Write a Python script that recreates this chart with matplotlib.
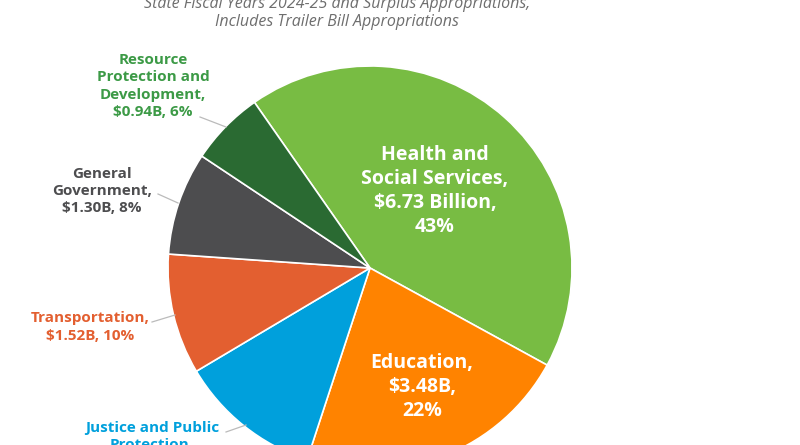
import matplotlib.pyplot as plt

categories = ["Health and Social Services", "Education", "Justice and Public Protection",
              "Transportation", "General Government", "Resource Protection and Development"]
values = [6.73, 3.48, 1.80, 1.52, 1.30, 0.94]
colors = ["#78BC43", "#FF8300", "#00A0DC", "#E35F30", "#4D4D4F", "#2A6A32"]

W, H = 800, 445
plt.rcParams["font.family"] = ["Open Sans", "DejaVu Sans"]

fig = plt.figure(figsize=(W / 100, H / 100), dpi=100)

# pie drawn in its own equal-aspect axes placed in pixel space
cx, cy, r = 370, 268, 202
pax = fig.add_axes([(cx - r) / W, (H - cy - r) / H, 2 * r / W, 2 * r / H])
pax.pie(values, colors=colors, startangle=124.9, counterclock=False,
        wedgeprops=dict(edgecolor="white", linewidth=1.2))
pax.set_xlim(-1, 1)
pax.set_ylim(-1, 1)
pax.set_aspect("equal")
pax.axis("off")

# overlay axes in pixel coordinates for text
ax = fig.add_axes([0, 0, 1, 1])
ax.set_zorder(3)
ax.set_xlim(0, W)
ax.set_ylim(H, 0)
ax.axis("off")

# title lines (partly cut off at the top, as in the source)
ax.text(337, 4, "State Fiscal Years 2024-25 and Surplus Appropriations,",
        ha="center", va="center", fontsize=11.5, style="italic", color="#6E6E6E")
ax.text(337, 22, "Includes Trailer Bill Appropriations",
        ha="center", va="center", fontsize=11.5, style="italic", color="#6E6E6E")

total = sum(values)
pct = [round(v / total * 100) for v in values]

# inside labels
ax.text(435, 191, f"Health and\nSocial Services,\n${values[0]:.2f} Billion,\n{pct[0]}%",
        ha="center", va="center", fontsize=14, fontweight="bold", color="white",
        linespacing=1.25)
ax.text(422, 387, f"Education,\n${values[1]:.2f}B,\n{pct[1]}%",
        ha="center", va="center", fontsize=14, fontweight="bold", color="white",
        linespacing=1.25)

# outside labels with leader lines
outside = [
    (5, "Resource\nProtection and\nDevelopment,", 153, 86, (200, 117), (226, 127)),
    (4, "General\nGovernment,", 102, 191, (158, 194), (178, 203)),
    (3, "Transportation,", 90, 327, (152, 322), (175, 315)),
    (2, "Justice and Public\nProtection,", 152, 445, (226, 432), (246, 425)),
]
for i, txt, x, y, p0, p1 in outside:
    ax.text(x, y, f"{txt}\n${values[i]:.2f}B, {pct[i]}%", ha="center", va="center",
            fontsize=11, fontweight="bold", color=colors[i] if i != 5 else "#3C9A46",
            linespacing=1.3)
    ax.plot([p0[0], p1[0]], [p0[1], p1[1]], color="#BBBBBB", lw=0.9)

fig.savefig("out.png", dpi=100)
